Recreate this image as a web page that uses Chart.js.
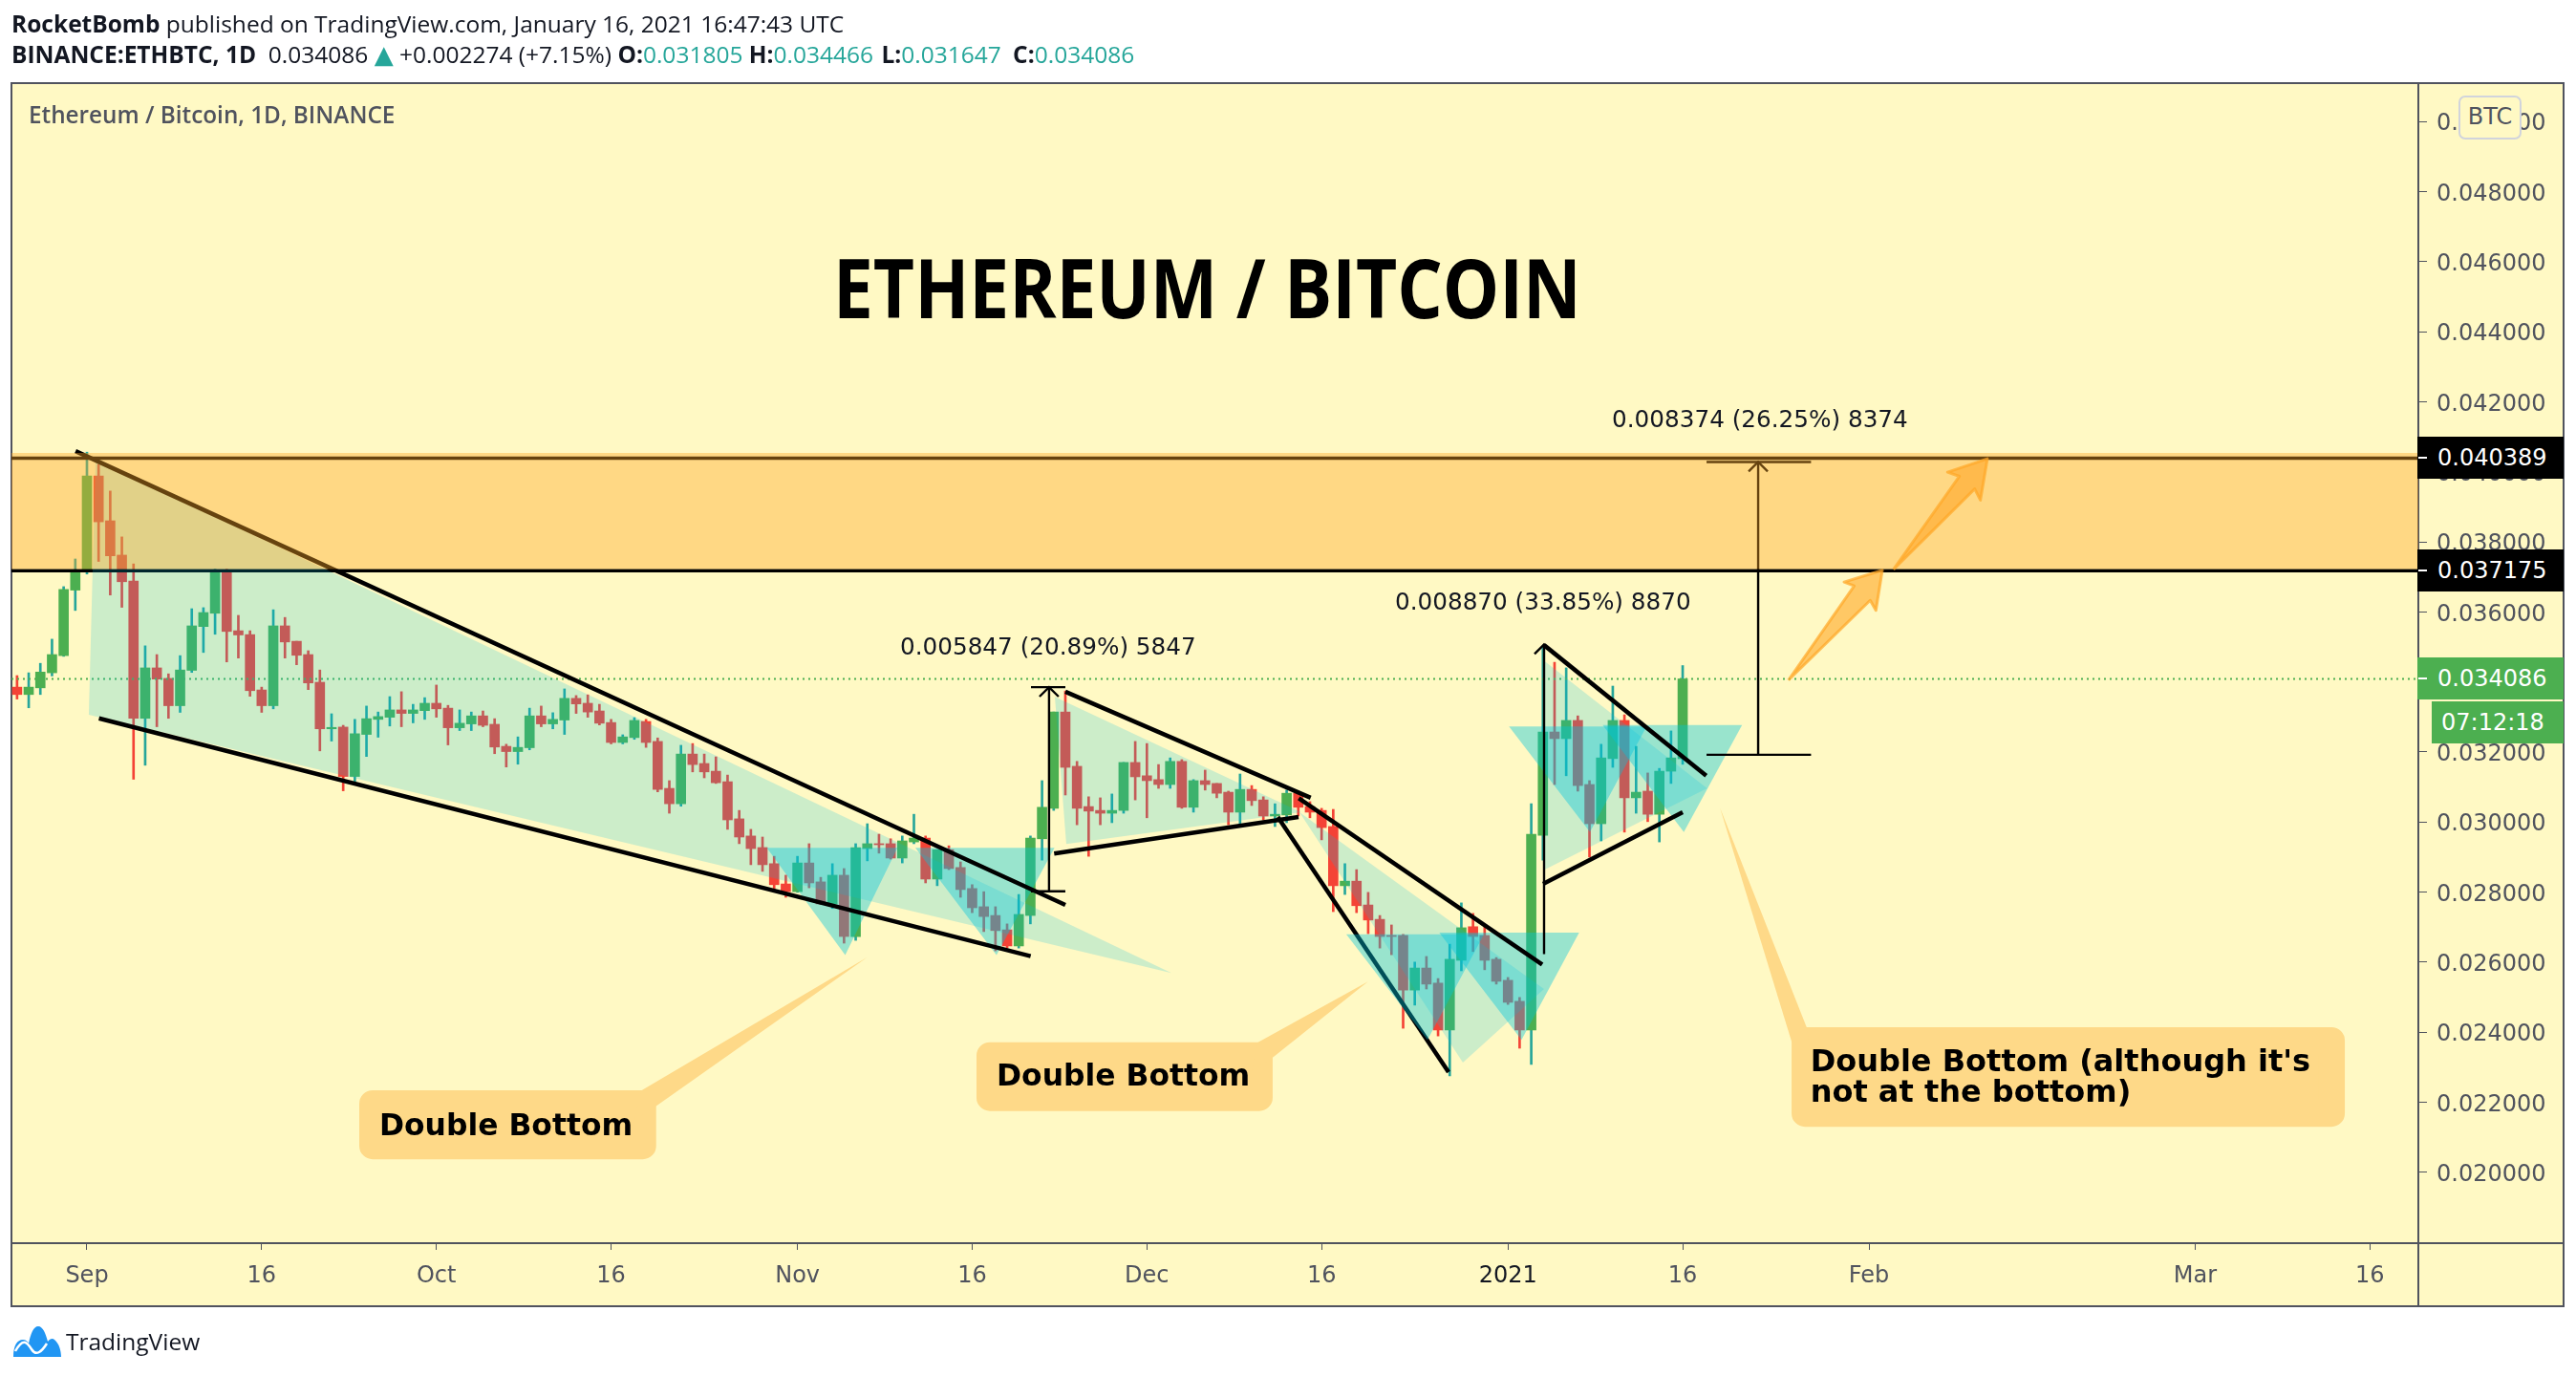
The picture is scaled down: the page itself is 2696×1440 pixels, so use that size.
<!DOCTYPE html>
<html>
<head>
<meta charset="utf-8">
<title>ETHBTC</title>
<script src="https://cdn.jsdelivr.net/npm/chart.js@4"></script>
<style>
  html, body { margin: 0; padding: 0; background: #fff; overflow: hidden; }
  body { width: 2696px; height: 1440px; position: relative; font-family: "Open Sans", sans-serif; color: #131722; }
  canvas { position: absolute; left: 0; top: 0; z-index: 1; }
  #frame { position: absolute; left: 11px; top: 86px; width: 2673px; height: 1282px; box-sizing: border-box; border: 2px solid #50535e; background: #fff9c4; }
  #xline { position: absolute; left: 12px; top: 1300px; width: 2671px; height: 2px; background: #50535e; }
  #yline { position: absolute; left: 2530px; top: 87px; width: 2px; height: 1280px; background: #50535e; }
  .head { position: absolute; left: 12px; white-space: pre; font-size: 24.5px; line-height: 30px; z-index: 2; }
  .head b { font-weight: 700; }
  .teal { color: #26a69a; }
  .tri { font-family: "DejaVu Sans", sans-serif; font-size: 26px; line-height: 0; }
  #legend { position: absolute; left: 30px; top: 102px; font-size: 24.3px; line-height: 36px; font-weight: 600; color: #50535e; z-index: 2; }
  #bigtitle { position: absolute; left: 872px; top: 240px; font-size: 86px; line-height: 120px; font-weight: 700; color: #000; white-space: pre; transform: scaleX(0.869); transform-origin: left center; z-index: 2; }
  .note { position: absolute; white-space: pre; font-family: "DejaVu Sans", sans-serif; z-index: 2; transform: translateY(-50%); }
  .measure { font-size: 24.7px; color: #131722; }
  .callout { font-size: 31.4px; line-height: 32px; font-weight: 700; color: #000; }
  .callout.long { font-size: 32px; }
  .badge { position: absolute; left: 2530px; width: 153px; height: 44px; line-height: 44px; font-family: "DejaVu Sans", sans-serif; font-size: 24px; color: #fff; z-index: 3; box-sizing: border-box; padding-left: 21px; }
  .badge i { position: absolute; left: 1px; top: 21px; width: 9px; height: 2px; background: #fff; }
  #btc { position: absolute; left: 2573px; top: 100px; width: 66px; height: 46px; box-sizing: border-box; border: 2px solid #d1d4dc; border-radius: 7px; background: #fff9c4; color: #50535e; font-family: "DejaVu Sans", sans-serif; font-size: 24px; line-height: 40px; text-align: center; z-index: 3; }
  #logo { position: absolute; left: 14px; top: 1388px; z-index: 2; }
  #brand { position: absolute; left: 69px; top: 1386px; font-size: 24.5px; line-height: 36px; color: #131722; z-index: 2; }
</style>
</head>
<body>
<div id="frame"></div>
<div id="xline"></div>
<div id="yline"></div>
<div class="head" style="top:10px"><b>RocketBomb</b> published on TradingView.com, January 16, 2021 16:47:43 UTC</div>
<div class="head" style="top:42px"><b>BINANCE:ETHBTC, 1D</b>  0.034086 <span class="teal tri">▲</span> +0.002274 (+7.15%) <b>O:</b><span class="teal">0.031805</span> <b>H:</b><span class="teal">0.034466</span> <b style="margin-left:2px">L:</b><span class="teal">0.031647</span> <b style="margin-left:6px">C:</b><span class="teal">0.034086</span></div>
<div id="legend">Ethereum / Bitcoin, 1D, BINANCE</div>
<div id="bigtitle">ETHEREUM / BITCOIN</div>
<div id="btc">BTC</div>
<svg id="logo" width="50" height="32" viewBox="0 0 50 32">
  <path d="M0 32 C0 20 4 14 10 14 C13 14 15 16 16 18 C18 8 21 0 26 0 C31 0 34 8 36 16 C38 13 41 12 43 14 C48 18 50 26 50 32 Z" fill="#2196f3"/>
  <path d="M2 26 C10 12 14 16 19 24 C24 32 30 26 35 18" fill="none" stroke="#fff" stroke-width="2.5"/>
</svg>
<div id="brand">TradingView</div>
<canvas id="myChart" width="2696" height="1440"></canvas>

<script>
// bars start Aug 26 2020, index 6 = Sep 1, index 143 = Jan 16 2021
let candleOpen = [
  0.03385,0.03364,0.03383,0.03426,0.03475,0.03662,0.03722,0.03988,0.03860,0.03762,
  0.03688,0.03296,0.03440,0.03410,0.03332,0.03433,0.03558,0.03596,0.03716,0.03546,
  0.03535,0.03377,0.03332,0.03560,0.03516,0.03478,0.03399,0.03266,0.03271,0.03130,
  0.03250,0.03293,0.03299,0.03320,0.03310,0.03318,0.03339,0.03325,0.03269,0.03280,
  0.03303,0.03279,0.03216,0.03201,0.03212,0.03303,0.03280,0.03291,0.03353,0.03339,
  0.03317,0.03284,0.03227,0.03241,0.03287,0.03230,0.03096,0.03052,0.03194,0.03167,
  0.03145,0.03115,0.03009,0.02960,0.02927,0.02881,0.02823,0.02801,0.02883,0.02829,
  0.02766,0.02848,0.02673,0.02924,0.02938,0.02938,0.02897,0.02943,0.02954,0.02837,
  0.02921,0.02870,0.02810,0.02758,0.02733,0.02692,0.02646,0.02733,0.02952,0.03039,
  0.03314,0.03159,0.03044,0.03033,0.03025,0.03033,0.03170,0.03132,0.03121,0.03107,
  0.03173,0.03042,0.03118,0.03110,0.03085,0.03028,0.03093,0.03063,0.03017,0.03020,
  0.03082,0.03044,0.03033,0.02987,0.02818,0.02831,0.02763,0.02722,0.02676,0.02676,
  0.02520,0.02583,0.02540,0.02406,0.02605,0.02701,0.02676,0.02608,0.02548,0.02488,
  0.02406,0.02962,0.03257,0.03238,0.03290,0.03107,0.02995,0.03181,0.03290,0.03069,
  0.03088,0.03022,0.03145,0.031805
];
let candleHigh = [
  0.03418,0.03426,0.03453,0.03522,0.03672,0.03751,0.04056,0.04021,0.03945,0.03814,
  0.03737,0.03503,0.03478,0.03423,0.03475,0.03609,0.03612,0.03722,0.03722,0.03590,
  0.03546,0.03385,0.03606,0.03584,0.03516,0.03489,0.03434,0.03309,0.03276,0.03293,
  0.03331,0.03314,0.03358,0.03372,0.03336,0.03355,0.03391,0.03333,0.03320,0.03314,
  0.03317,0.03295,0.03222,0.03243,0.03325,0.03331,0.03312,0.03380,0.03361,0.03363,
  0.03336,0.03293,0.03249,0.03298,0.03293,0.03240,0.03118,0.03219,0.03224,0.03194,
  0.03186,0.03134,0.03033,0.02979,0.02957,0.02902,0.02848,0.02902,0.02938,0.02842,
  0.02881,0.02867,0.02938,0.02995,0.02965,0.02952,0.02960,0.03022,0.02960,0.02921,
  0.02932,0.02886,0.02821,0.02801,0.02758,0.02709,0.02793,0.02960,0.03118,0.03314,
  0.03374,0.03173,0.03072,0.03069,0.03080,0.03170,0.03230,0.03224,0.03164,0.03183,
  0.03178,0.03121,0.03148,0.03110,0.03088,0.03137,0.03104,0.03072,0.03052,0.03091,
  0.03088,0.03058,0.03039,0.03036,0.02881,0.02864,0.02799,0.02733,0.02706,0.02679,
  0.02600,0.02616,0.02553,0.02651,0.02769,0.02739,0.02701,0.02613,0.02556,0.02499,
  0.03052,0.03501,0.03456,0.03440,0.03303,0.03118,0.03222,0.03388,0.03306,0.03216,
  0.03140,0.03153,0.03260,0.034466
];
let candleLow = [
  0.03351,0.03326,0.03364,0.03417,0.03473,0.03604,0.03708,0.03744,0.03648,0.03613,
  0.03122,0.03162,0.03272,0.03296,0.03313,0.03427,0.03484,0.03536,0.03457,0.03468,
  0.03359,0.03313,0.03323,0.03468,0.03449,0.03378,0.03203,0.03231,0.03089,0.03115,
  0.03187,0.03242,0.03274,0.03272,0.03283,0.03293,0.03299,0.03220,0.03261,0.03261,
  0.03272,0.03195,0.03157,0.03165,0.03206,0.03272,0.03266,0.03250,0.03310,0.03299,
  0.03277,0.03223,0.03223,0.03236,0.03213,0.03086,0.03025,0.03045,0.03143,0.03126,
  0.03110,0.02979,0.02938,0.02878,0.02859,0.02810,0.02785,0.02799,0.02812,0.02764,
  0.02753,0.02654,0.02662,0.02889,0.02911,0.02894,0.02883,0.02938,0.02826,0.02818,
  0.02864,0.02785,0.02741,0.02687,0.02632,0.02640,0.02640,0.02709,0.02891,0.03033,
  0.03077,0.02992,0.02902,0.02992,0.02998,0.03025,0.03063,0.03012,0.03096,0.03096,
  0.03039,0.03028,0.03091,0.03069,0.02992,0.02992,0.03047,0.03006,0.02987,0.02998,
  0.03017,0.03012,0.02949,0.02744,0.02793,0.02741,0.02681,0.02640,0.02621,0.02411,
  0.02477,0.02523,0.02389,0.02275,0.02575,0.02630,0.02578,0.02537,0.02479,0.02354,
  0.02308,0.02891,0.03107,0.03132,0.03088,0.02900,0.02946,0.03156,0.02971,0.03025,
  0.03001,0.02943,0.03110,0.031647
];
let candleClose = [
  0.03364,0.03385,0.03428,0.03478,0.03664,0.03715,0.03988,0.03857,0.03760,0.03686,
  0.03296,0.03440,0.03408,0.03332,0.03434,0.03560,0.03598,0.03716,0.03544,0.03534,
  0.03375,0.03332,0.03560,0.03514,0.03476,0.03397,0.03266,0.03270,0.03130,0.03252,
  0.03295,0.03301,0.03320,0.03310,0.03320,0.03339,0.03323,0.03269,0.03282,0.03303,
  0.03276,0.03214,0.03201,0.03213,0.03303,0.03280,0.03293,0.03353,0.03337,0.03314,
  0.03282,0.03227,0.03243,0.03290,0.03227,0.03093,0.03052,0.03194,0.03164,0.03143,
  0.03112,0.03006,0.02957,0.02924,0.02878,0.02821,0.02801,0.02883,0.02826,0.02766,
  0.02848,0.02673,0.02927,0.02938,0.02935,0.02897,0.02946,0.02954,0.02837,0.02921,
  0.02867,0.02807,0.02755,0.02730,0.02690,0.02646,0.02736,0.02954,0.03042,0.03314,
  0.03156,0.03039,0.03031,0.03025,0.03033,0.03170,0.03129,0.03118,0.03107,0.03173,
  0.03042,0.03118,0.03107,0.03082,0.03028,0.03093,0.03061,0.03017,0.03022,0.03082,
  0.03042,0.03028,0.02984,0.02818,0.02831,0.02761,0.02720,0.02673,0.02673,0.02520,
  0.02583,0.02537,0.02406,0.02608,0.02698,0.02673,0.02605,0.02545,0.02485,0.02406,
  0.02965,0.03257,0.03238,0.03290,0.03104,0.02995,0.03183,0.03290,0.03069,0.03085,
  0.03022,0.03145,0.03183,0.034086
];

let tickDays = [6, 21, 36, 51, 67, 82, 97, 112, 128, 143, 159, 187, 202];
let tickDayLabels = ["Sep", "16", "Oct", "16", "Nov", "16", "Dec", "16", "2021", "16", "Feb", "Mar", "16"];
let priceTicks = [0.020, 0.022, 0.024, 0.026, 0.028, 0.030, 0.032, 0.034, 0.036, 0.038, 0.040, 0.042, 0.044, 0.046, 0.048, 0.050];

// drawings, [bar index, price]
let trendLinesUnder = [
  [[108.24, 0.03014], [122.9, 0.02286]]
];
let trendLines = [
  [[5.02, 0.04059], [90, 0.02763]],
  [[7.03, 0.03296], [87.02, 0.02617]],
  [[90, 0.03372], [111.06, 0.03069]],
  [[89.04, 0.0291], [110.02, 0.03014]],
  [[110.04, 0.03068], [130.94, 0.02593]],
  [[131.1, 0.03505], [145.02, 0.03132]],
  [[131.02, 0.02823], [143, 0.03028]]
];
let wedgeFills = [
  [[6.74, 0.04035], [6.16, 0.03306], [99.11, 0.02569]],
  [[89.1, 0.03357], [90.08, 0.02937], [110.24, 0.03028]],
  [[110.1, 0.03028], [131.1, 0.02523], [124.13, 0.02313]],
  [[131.1, 0.0346], [131.16, 0.02864], [145.1, 0.03096]]
];
let bottomFills = [
  [[64.37, 0.02926], [75.59, 0.02926], [71.1, 0.0262]],
  [[77.12, 0.02926], [89.07, 0.02926], [84.09, 0.0262]],
  [[114.12, 0.02679], [125.94, 0.02679], [121.09, 0.02378]],
  [[122.1, 0.02684], [134.11, 0.02684], [129.16, 0.02378]],
  [[128.09, 0.03273], [139.9, 0.03273], [135.04, 0.02971]],
  [[136.13, 0.03277], [148.1, 0.03277], [143.1, 0.02971]]
];
let measureLines = [
  [[88.6, 0.02802], [88.6, 0.03385]],
  [[87.05, 0.03385], [90, 0.03385]],
  [[87.05, 0.02802], [90, 0.02802]],
  [[87.78, 0.03358], [88.6, 0.03385], [89.42, 0.03358]],
  [[131.1, 0.02623], [131.1, 0.03507]],
  [[130.28, 0.0348], [131.1, 0.03507], [131.92, 0.0348]]
];
let targetLines = [
  [[149.48, 0.03192], [149.48, 0.04028]],
  [[145.05, 0.04028], [154.02, 0.04028]],
  [[145.05, 0.03192], [154.02, 0.03192]],
  [[148.66, 0.04001], [149.48, 0.04028], [150.3, 0.04001]]
];
let arrowShapes = [
  [[152.08, 0.03405], [157.73, 0.03674], [156.86, 0.03685], [160.14, 0.03719], [159.59, 0.03604], [159.1, 0.03633], [152.08, 0.03405]],
  [[161.1, 0.03721], [166.76, 0.03987], [165.74, 0.03999], [169.16, 0.04037], [168.56, 0.03919], [168.07, 0.03951], [161.1, 0.03721]]
];
let calloutBoxes = [
  [[42, 0.02196], [53.72, 0.02196], [53.72, 0.02075], [30.53, 0.02075], [30.53, 0.02196], [42, 0.02196]],
  [[95, 0.02333], [106.65, 0.02333], [106.65, 0.02213], [83.52, 0.02213], [83.52, 0.02333], [95, 0.02333]],
  [[176, 0.02376], [198.7, 0.02376], [198.7, 0.02168], [153.5, 0.02168], [153.5, 0.02376], [176, 0.02376]]
];
let calloutTails = [
  [[53.6, 0.02233], [73, 0.02614], [54.87, 0.02189], [53, 0.0215]],
  [[106.55, 0.02371], [115.98, 0.02544], [107.8, 0.02327], [106, 0.0229]],
  [[153.64, 0.02414], [146.2, 0.03041], [152.35, 0.02373], [154, 0.0233]]
];
let zoneTop = 0.040389, zoneBottom = 0.037175, zoneFillTop = 0.040538, zoneFillBottom = 0.03722;
let lastPrice = 0.034086;
let axisFrom = -0.48, axisTo = 206.16, priceMin = 0.017973, priceMax = 0.051097;

let measureTexts = [
  ["0.005847 (20.89%) 5847", 75.81, 0.03503],
  ["0.008870 (33.85%) 8870", 118.3, 0.03631],
  ["0.008374 (26.25%) 8374", 136.93, 0.04152]
];
let calloutTexts = [
  ["Double Bottom", "callout", 31.1, 0.02136],
  ["Double Bottom", "callout", 84.1, 0.02278],
  ["Double Bottom (although it's\nnot at the bottom)", "callout long", 153.96, 0.02276]
];

let upBody = "#4caf50", upWick = "#26a69a", downBody = "#f44336", downWick = "#f44336";

function toPoints(list) {
  return list.map((p) => ({ x: p[0], y: p[1] }));
}
function lineSet(list, width, color, order) {
  return { type: "scatter", showLine: true, data: toPoints(list), borderColor: color, borderWidth: width, pointRadius: 0, fill: false, order: order };
}
function shapeSet(list, color, order) {
  return { type: "scatter", showLine: true, data: toPoints(list), backgroundColor: color, borderWidth: 0, pointRadius: 0, fill: "shape", order: order };
}

let wickData = [], bodyData = [], wickColors = [], bodyColors = [];
for (let i = 0; i < candleOpen.length; i++) {
  let up = candleClose[i] >= candleOpen[i];
  wickData.push({ x: i, y: [candleLow[i], candleHigh[i]] });
  bodyData.push({ x: i, y: [candleOpen[i], candleClose[i]] });
  wickColors.push(up ? upWick : downWick);
  bodyColors.push(up ? upBody : downBody);
}

let datasets = [
  { type: "bar", data: wickData, backgroundColor: wickColors, barThickness: 2, grouped: false, order: 100 },
  { type: "bar", data: bodyData, backgroundColor: bodyColors, barThickness: 10, grouped: false, order: 99 }
];
let dotted = lineSet([[axisFrom, lastPrice], [axisTo, lastPrice]], 2, upBody, 98);
dotted.borderDash = [2, 4];
datasets.push(dotted);
trendLinesUnder.forEach((l) => datasets.push(lineSet(l, 4.5, "#000", 97)));
datasets.push(lineSet([[axisFrom, zoneTop], [axisTo, zoneTop]], 3.5, "#000", 96));
datasets.push(lineSet([[axisFrom, zoneBottom], [axisTo, zoneBottom]], 3.5, "#000", 95));
wedgeFills.forEach((s) => datasets.push(shapeSet(s, "rgba(0,190,225,0.2)", 94)));
bottomFills.forEach((s) => datasets.push(shapeSet(s, "rgba(0,197,220,0.4)", 93)));
trendLines.forEach((l) => datasets.push(lineSet(l, 4.5, "#000", 90)));
measureLines.forEach((l) => datasets.push(lineSet(l, 2.4, "#000", 90)));
targetLines.forEach((l) => datasets.push(lineSet(l, 2.4, "#000", 89)));
datasets.push(shapeSet([[axisFrom, zoneFillTop], [axisTo, zoneFillTop], [axisTo, zoneFillBottom], [axisFrom, zoneFillBottom]], "rgba(255,167,38,0.4)", 88));
calloutBoxes.forEach((b) => {
  let box = shapeSet(b, "#fed988", 82);
  box.borderColor = "#fed988";
  box.borderWidth = 28;
  box.borderJoinStyle = "round";
  datasets.push(box);
});
calloutTails.forEach((t) => datasets.push(shapeSet(t, "#fed988", 81)));
arrowShapes.forEach((a) => {
  let arrow = shapeSet(a, "rgba(255,167,38,0.6)", 80);
  arrow.borderColor = "rgba(255,167,38,0.7)";
  arrow.borderWidth = 3;
  arrow.borderJoinStyle = "round";
  datasets.push(arrow);
});

let axisFont = { family: "'DejaVu Sans'", size: 24 };

let myChart = new Chart("myChart", {
  type: "bar",
  data: { datasets: datasets },
  options: {
    responsive: false,
    devicePixelRatio: 1,
    animation: false,
    events: [],
    layout: { padding: { left: 12, top: 87, right: 13, bottom: 73 } },
    plugins: { legend: { display: false }, title: { display: false }, tooltip: { enabled: false } },
    scales: {
      x: {
        type: "linear",
        position: "bottom",
        min: axisFrom,
        max: axisTo,
        offset: false,
        grid: { offset: false, drawOnChartArea: false, drawTicks: true, tickLength: 7, color: "#50535e" },
        border: { display: false },
        afterBuildTicks: (scale) => { scale.ticks = tickDays.map((v) => ({ value: v })); },
        afterFit: (scale) => { scale.height = 66; },
        ticks: {
          autoSkip: false,
          maxRotation: 0,
          padding: 13,
          color: (ctx) => (tickDayLabels[ctx.index] === "2021" ? "#131722" : "#50535e"),
          font: axisFont,
          callback: (value) => tickDayLabels[tickDays.indexOf(value)]
        }
      },
      y: {
        type: "linear",
        position: "right",
        min: priceMin,
        max: priceMax,
        beginAtZero: false,
        grid: { drawOnChartArea: false, drawTicks: true, tickLength: 9, color: "#50535e" },
        border: { display: false },
        afterBuildTicks: (scale) => { scale.ticks = priceTicks.map((v) => ({ value: v })); },
        afterFit: (scale) => { scale.width = 152; },
        ticks: {
          autoSkip: false,
          padding: 10,
          labelOffset: 3,
          color: "#50535e",
          font: axisFont,
          callback: (value) => value.toFixed(6)
        }
      }
    }
  }
});

// text on the chart, placed through the scales
function addNote(text, cls, day, price) {
  let d = document.createElement("div");
  d.className = "note " + cls;
  d.textContent = text;
  d.style.left = myChart.scales.x.getPixelForValue(day) + "px";
  d.style.top = myChart.scales.y.getPixelForValue(price) + "px";
  document.body.appendChild(d);
}
measureTexts.forEach((t) => addNote(t[0], "measure", t[1], t[2]));
calloutTexts.forEach((t) => addNote(t[0], t[1], t[2], t[3]));

function addBadge(text, price, color, shift, left, noTick) {
  let d = document.createElement("div");
  d.className = "badge";
  d.textContent = text;
  d.style.background = color;
  d.style.top = myChart.scales.y.getPixelForValue(price) - 22 + shift + "px";
  if (left) {
    d.style.left = left + "px";
    d.style.width = 2683 - left + "px";
    d.style.paddingLeft = "10px";
  }
  if (!noTick) d.appendChild(document.createElement("i"));
  document.body.appendChild(d);
}
addBadge(zoneTop.toFixed(6), zoneTop, "#000", 0);
addBadge(zoneBottom.toFixed(6), zoneBottom, "#000", 0);
addBadge(lastPrice.toFixed(6), lastPrice, upBody, 0);
addBadge("07:12:18", lastPrice, upBody, 46, 2545, true);
</script>
</body>
</html>
